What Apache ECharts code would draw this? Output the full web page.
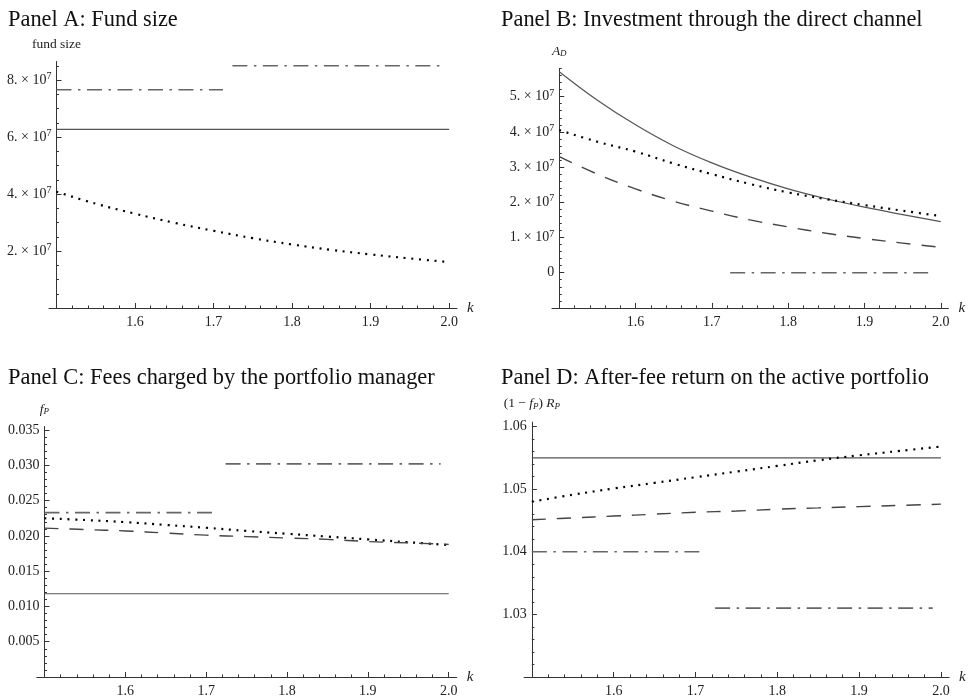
<!DOCTYPE html>
<html>
<head>
<meta charset="utf-8">
<script src="https://cdn.jsdelivr.net/npm/echarts@6/dist/echarts.min.js"></script>
<style>
html,body{margin:0;padding:0;background:#fff;}
#chart{width:969px;height:698px;}
</style>
</head>
<body>
<div id="chart"></div>
<script>
// ---------------- data ----------------
const kGrid = [1.5, 1.55, 1.6, 1.65, 1.7, 1.75, 1.8, 1.85, 1.9, 1.95, 2.0];
const kEnds = [1.5, 2.0];
const kLow = [1.5, 1.712];
const kHigh = [1.724, 1.99];

// Panel A: fund size
const fundSolid = [6.27e7, 6.27e7];
const fundDotted = [4.08e7, 3.66e7, 3.31e7, 2.99e7, 2.71e7, 2.45e7, 2.23e7, 2.04e7, 1.88e7, 1.74e7, 1.61e7];
const fundDashDotLow = [7.66e7, 7.66e7];
const fundDashDotHigh = [8.5e7, 8.5e7];

// Panel B: investment through the direct channel A_D
const directSolid = [5.71e7, 4.9e7, 4.2e7, 3.6e7, 3.12e7, 2.72e7, 2.38e7, 2.1e7, 1.86e7, 1.65e7, 1.45e7];
const directDotted = [4.05e7, 3.72e7, 3.44e7, 3.1e7, 2.8e7, 2.52e7, 2.28e7, 2.09e7, 1.92e7, 1.76e7, 1.61e7];
const directDashed = [3.3e7, 2.8e7, 2.38e7, 2.03e7, 1.75e7, 1.5e7, 1.3e7, 1.12e7, 0.97e7, 0.84e7, 0.72e7];
const directDashDotHigh = [0, 0];

// Panel C: fees f_P
const feeSolid = [0.0118, 0.0118];
const feeDotted = [0.0225, 0.02225, 0.02195, 0.02155, 0.02115, 0.0207, 0.0203, 0.0199, 0.0195, 0.0191, 0.0187];
const feeDashed = [0.0211, 0.0209, 0.0207, 0.0204, 0.0201, 0.0199, 0.0197, 0.0195, 0.0192, 0.019, 0.0188];
const feeDashDotLow = [0.0233, 0.0233];
const feeDashDotHigh = [0.0302, 0.0302];

// Panel D: after-fee return (1 - f_P) R_P
const retSolid = [1.055, 1.055];
const retDotted = [1.048, 1.0491, 1.0501, 1.051, 1.0519, 1.0528, 1.0537, 1.0546, 1.0554, 1.0561, 1.0568];
const retDashed = [1.0451, 1.0454, 1.0457, 1.046, 1.0463, 1.0465, 1.0468, 1.047, 1.0472, 1.0474, 1.0476];
const retDashDotLow = [1.04, 1.04];
const retDashDotHigh = [1.031, 1.031];

// tick values / labels
const xMajorTicks = [1.5, 1.6, 1.7, 1.8, 1.9, 2.0];
const xTickLabels = [1.6, 1.7, 1.8, 1.9, 2.0];
const fundTickLabels = [2e7, 4e7, 6e7, 8e7];
const directTickLabels = [0, 1e7, 2e7, 3e7, 4e7, 5e7];
const feeTickLabels = [0.005, 0.01, 0.015, 0.02, 0.025, 0.03, 0.035];
const retTickLabels = [1.03, 1.04, 1.05, 1.06];

const titles = [
  'Panel A: Fund size',
  'Panel B: Investment through the direct channel',
  'Panel C: Fees charged by the portfolio manager',
  'Panel D: After-fee return on the active portfolio'
];

// ---------------- layout ----------------
const X_MIN = 1.4905, X_MAX = 2.010;
const grids = [
  {left: 49, top: 61.5, width: 408, height: 246.5},
  {left: 552, top: 68.5, width: 396.4, height: 239.4},
  {left: 36.8, top: 426.5, width: 420, height: 252.8},
  {left: 524.1, top: 422.1, width: 425, height: 257.2}
];
const yRanges = [[0, 8.65e7], [-1e7, 5.8e7], [0, 0.0355], [1.02, 1.0607]];
const yMinorStep = [0.5e7, 0.2e7, 0.001, 0.002];
const yMajorLists = [fundTickLabels, directTickLabels, feeTickLabels, retTickLabels];
const titlePos = [[8, 9], [501, 9], [8, 367.5], [501, 367.5]];
const nameGaps = [10, 10, 10, 11];

function stepList(lo, hi, step, exclude) {
  const out = [];
  const n = Math.round((hi - lo) / step);
  for (let i = 0; i <= n; i++) {
    const v = +(lo + i * step).toFixed(10);
    if (v < lo - 1e-12 || v > hi + 1e-12) continue;
    if (exclude.some(e => Math.abs(e - v) < step * 1e-3)) continue;
    out.push(v);
  }
  return out;
}

const FONT = 'Liberation Serif';
const txt = {fontFamily: FONT, fontSize: 14, color: '#222'};
const rich = {
  n: {fontFamily: FONT, fontSize: 14, color: '#222', lineHeight: 17},
  s: {fontFamily: FONT, fontSize: 10, color: '#222', lineHeight: 11, verticalAlign: 'top'},
  i: {fontFamily: FONT, fontSize: 13.5, fontStyle: 'italic', color: '#222', lineHeight: 15},
  sub: {fontFamily: FONT, fontSize: 9, fontStyle: 'italic', color: '#222', lineHeight: 9, verticalAlign: 'bottom'},
  t: {fontFamily: FONT, fontSize: 13.5, color: '#222', lineHeight: 15}
};

const yFormatters = [
  v => '{n|' + Math.round(v / 1e7) + '. × 10}{s|7}',
  v => Math.abs(v) < 1 ? '{n|0}' : '{n|' + Math.round(v / 1e7) + '. × 10}{s|7}',
  v => '{n|' + v.toFixed(3) + '}',
  v => '{n|' + v.toFixed(2) + '}'
];
const yNames = [
  '{t|fund size}',
  '{i|A}{sub|D}',
  '{i|f}{sub|P}',
  '{t|(1 − }{i|f}{sub|P}{t|) }{i|R}{sub|P}'
];

const xAxes = [], yAxes = [];
const minorX = stepList(1.5, 2.0, 0.02, xMajorTicks);
grids.forEach((g, p) => {
  const axisLine = {show: true, onZero: false, lineStyle: {color: '#333', width: 1}};
  xAxes.push({
    type: 'value', gridIndex: p, position: 'bottom', min: X_MIN, max: X_MAX,
    axisLine: axisLine,
    axisTick: {show: true, inside: true, length: 5, customValues: xMajorTicks, lineStyle: {color: '#333'}},
    axisLabel: {show: true, customValues: xTickLabels, margin: 7, formatter: v => v.toFixed(1), ...txt},
    splitLine: {show: false},
    name: 'k', nameLocation: 'end', nameGap: 10,
    nameTextStyle: {fontFamily: FONT, fontSize: 15, fontStyle: 'italic', color: '#222'}
  });
  xAxes.push({
    type: 'value', gridIndex: p, position: 'bottom', offset: 0, min: X_MIN, max: X_MAX,
    axisLine: {show: false, onZero: false},
    axisTick: {show: true, inside: true, length: 2.5, customValues: minorX, lineStyle: {color: '#333'}},
    axisLabel: {show: false}, splitLine: {show: false}
  });
  const dx = (1.5 - X_MIN) / (X_MAX - X_MIN) * g.width;
  const [ymin, ymax] = yRanges[p];
  const majorY = yMajorLists[p];
  const minorY = stepList(ymin, ymax, yMinorStep[p], majorY.concat([ymin]));
  yAxes.push({
    type: 'value', gridIndex: p, position: 'left', min: ymin, max: ymax, offset: -dx,
    axisLine: axisLine,
    axisTick: {show: true, inside: true, length: 5, customValues: majorY, lineStyle: {color: '#333'}},
    axisLabel: {show: true, customValues: majorY, margin: 5, formatter: yFormatters[p], rich: rich, ...txt},
    splitLine: {show: false},
    name: yNames[p], nameLocation: 'end', nameGap: nameGaps[p],
    nameTextStyle: {rich: rich, fontFamily: FONT, fontSize: 13.5, color: '#222', align: 'center'}
  });
  yAxes.push({
    type: 'value', gridIndex: p, position: 'left', min: ymin, max: ymax, offset: -dx,
    axisLine: {show: false, onZero: false},
    axisTick: {show: true, inside: true, length: 2.5, customValues: minorY, lineStyle: {color: '#333'}},
    axisLabel: {show: false}, splitLine: {show: false}
  });
});

const styles = {
  solid: {color: '#555', width: 1.2, type: 'solid'},
  dotted: {color: '#000', width: 2.2, type: [2, 5.7], cap: 'butt'},
  dashed: {color: '#444', width: 1.4, type: [14, 11]},
  dashdot: {color: '#666', width: 1.6, type: [15, 6.5, 2.5, 6.5]}
};

function mk(p, xs, ys, st, smooth) {
  return {
    type: 'line', xAxisIndex: 2 * p, yAxisIndex: 2 * p,
    data: xs.map((x, i) => [x, ys[i]]),
    showSymbol: false, symbol: 'none', smooth: smooth ? 0.4 : false,
    lineStyle: styles[st], silent: true, clip: false
  };
}

const series = [
  mk(0, kEnds, fundSolid, 'solid'),
  mk(0, kGrid, fundDotted, 'dotted', true),
  mk(0, kLow, fundDashDotLow, 'dashdot'),
  mk(0, kHigh, fundDashDotHigh, 'dashdot'),

  mk(1, kGrid, directSolid, 'solid', true),
  mk(1, kGrid, directDotted, 'dotted', true),
  mk(1, kGrid, directDashed, 'dashed', true),
  mk(1, kHigh, directDashDotHigh, 'dashdot'),

  mk(2, kEnds, feeSolid, 'solid'),
  mk(2, kGrid, feeDotted, 'dotted', true),
  mk(2, kGrid, feeDashed, 'dashed', true),
  mk(2, kLow, feeDashDotLow, 'dashdot'),
  mk(2, kHigh, feeDashDotHigh, 'dashdot'),

  mk(3, kEnds, retSolid, 'solid'),
  mk(3, kGrid, retDotted, 'dotted', true),
  mk(3, kGrid, retDashed, 'dashed', true),
  mk(3, kLow, retDashDotLow, 'dashdot'),
  mk(3, kHigh, retDashDotHigh, 'dashdot')
];

const chart = echarts.init(document.getElementById('chart'), null, {renderer: 'canvas'});
chart.setOption({
  animation: false,
  backgroundColor: '#fff',
  title: titles.map((t, i) => ({
    text: t, left: titlePos[i][0], top: titlePos[i][1], padding: 0,
    textStyle: {fontFamily: FONT, fontSize: 22.4, fontWeight: 'normal', color: '#111'}
  })),
  grid: grids.map(g => ({left: g.left, top: g.top, width: g.width, height: g.height, containLabel: false})),
  xAxis: xAxes,
  yAxis: yAxes,
  series: series
});
</script>
</body>
</html>
